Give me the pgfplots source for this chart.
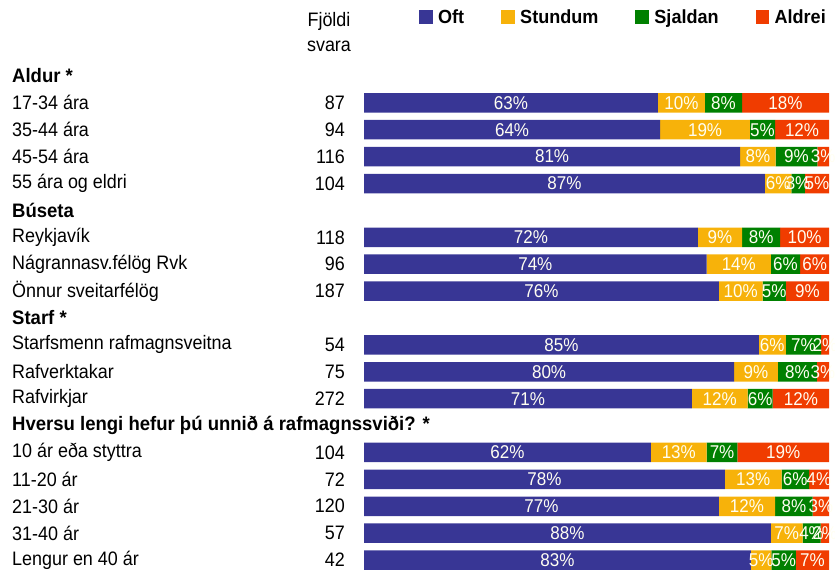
\documentclass[border=0pt]{standalone}
\usepackage{fontspec}
\setmainfont{Liberation Sans}[FakeStretch=0.92, BoldFeatures={FakeStretch=0.95}]
\usepackage{pgfplots}
\usepackage{pgfplotstable}
\pgfplotsset{compat=1.18}
\definecolor{cOft}{HTML}{383695}
\definecolor{cStu}{HTML}{F7B20A}
\definecolor{cSja}{HTML}{008000}
\definecolor{cAld}{HTML}{F03C00}
\newcommand{\fsz}{\fontsize{19.5}{25}\selectfont}

% row: minus the line number; bar widths, labels as printed
\pgfplotstableread{
row oft stu sja ald lo ls lj la
-1  63.2 10.1 8.0 18.7 63 10 8 18
-2  63.7 19.3 5.4 11.6 64 19 5 12
-3  80.9 7.6  9.0 2.5  81 8  9 3
-4  86.2 5.7  2.9 5.2  87 6  3 5
-6  71.8 9.5  8.2 10.5 72 9  8 10
-7  73.7 13.8 6.3 6.2  74 14 6 6
-8  76.3 9.4  5.0 9.3  76 10 5 9
-10 84.9 5.8  7.6 1.7  85 6  7 2
-11 79.6 9.4  8.4 2.6  80 9  8 3
-12 70.5 12.0 5.4 12.1 71 12 6 12
-14 61.7 12.0 6.6 19.7 62 13 7 19
-15 77.6 12.2 5.9 4.3  78 13 6 4
-16 76.3 12.1 8.1 3.5  77 12 8 3
-17 87.5 6.8  3.9 1.8  88 7  4 2
-18 83.2 4.4  5.3 7.1  83 5  5 7
}\data

\begin{document}
\begin{tikzpicture}
\pgfplotsset{
  base/.style={
    scale only axis, width=465pt, height=511pt,
    at={(0,0)}, anchor=south west,
    xmin=0, xmax=100, ymin=-18.5, ymax=0.5,
    axis lines=left, axis line style={draw=none},
    xtick=\empty, major tick length=0pt,
    tick label style={font=\fsz, inner sep=0pt},
  }
}
% category names
\begin{axis}[base, clip=false,
  ytick={0,-1,-2,-3,-4,-5,-6,-7,-8,-9,-10,-11,-12,-13,-14,-15,-16,-17,-18},
  yticklabels={\textbf{Aldur *},17-34 ára,35-44 ára,45-54 ára,55 ára og eldri,
    \textbf{Búseta},Reykjavík,Nágrannasv.félög Rvk,Önnur sveitarfélög,
    \textbf{Starf *},Starfsmenn rafmagnsveitna,Rafverktakar,Rafvirkjar,
    \textbf{Hversu lengi hefur þú unnið á rafmagnssviði? *},
    10 ár eða styttra,11-20 ár,21-30 ár,31-40 ár,Lengur en 40 ár},
  yticklabel style={anchor=west, xshift=-352pt},
]
\node[font=\fsz, align=center, xshift=-35pt, yshift=30pt] at (axis description cs:0,1) {Fjöldi\\svara};
\end{axis}
% counts and bars
\begin{axis}[base,
  xbar stacked, bar width=19.5pt,
  ytick={-1,-2,-3,-4,-6,-7,-8,-10,-11,-12,-14,-15,-16,-17,-18},
  yticklabels={87,94,116,104,118,96,187,54,75,272,104,72,120,57,42},
  yticklabel style={anchor=east, xshift=-19pt},
  point meta=explicit symbolic,
  nodes near coords={\pgfplotspointmeta\%},
  every node near coord/.append style={font=\fontsize{18.5}{22}\selectfont,
    text=white!95!yellow, anchor=center, inner sep=0pt},
  legend columns=4,
  legend image code/.code={\fill[#1] (0pt,-6.5pt) rectangle (13.5pt,7pt); \path (17pt,0pt);},
  legend style={draw=none, fill=none, font=\fontsize{19}{25}\selectfont\bfseries,
    at={(axis description cs:1,1)}, anchor=east, xshift=2pt, yshift=45pt,
    /tikz/every even column/.append style={column sep=35pt},
    nodes={inner sep=2pt}},
]
\addplot[fill=cOft, draw=none] table[x=oft, y=row, meta=lo] {\data};
\addplot[fill=cStu, draw=none] table[x=stu, y=row, meta=ls] {\data};
\addplot[fill=cSja, draw=none] table[x=sja, y=row, meta=lj] {\data};
\addplot[fill=cAld, draw=none] table[x=ald, y=row, meta=la] {\data};
\legend{Oft,Stundum,Sjaldan,Aldrei}
\end{axis}
\pgfresetboundingbox
\path[use as bounding box] (-364pt,1.5pt) rectangle (471pt,573.5pt);
\end{tikzpicture}
\end{document}
